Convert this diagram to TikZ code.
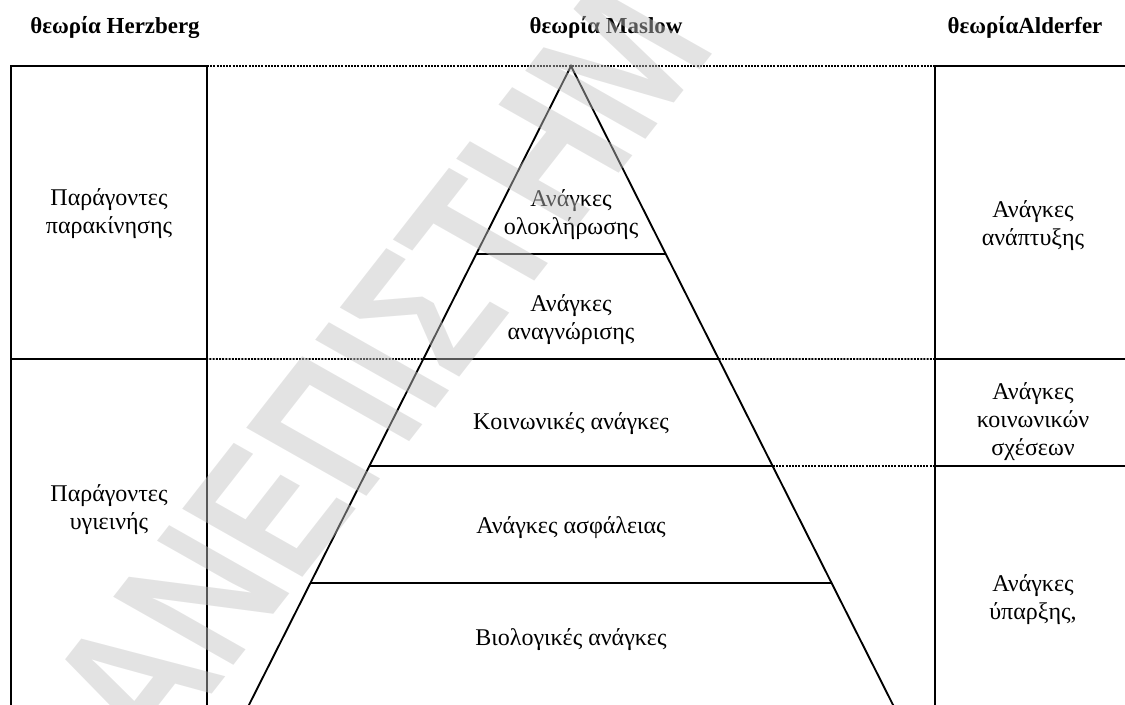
\documentclass[tikz,border=0pt]{standalone}
\usepackage{fontspec}
\setmainfont{Liberation Serif}
\newfontfamily\markfont{Liberation Sans}
\usetikzlibrary{calc}
\begin{document}
\begin{tikzpicture}[x=0.75pt,y=-0.75pt,
  rule/.style={line width=1.4pt},
  dots/.style={line width=1.4pt, dash pattern=on 1.5pt off 0.9pt},
  lbl/.style={font=\fontsize{18}{21}\selectfont, align=center, inner sep=0pt},
  head/.style={font=\fontsize{17.2}{19}\selectfont\bfseries, inner sep=0pt, anchor=base},
  stamp/.style={text=black!24, text opacity=0.45,
    font=\markfont\bfseries\fontsize{116}{116}\selectfont, inner sep=0pt}]
\useasboundingbox (0,0) rectangle (1125,704);
\clip (0,0) rectangle (1125,704);

% column headings
\node[head] (hH) at (115,33) {θεωρία Herzberg};
\node[head] (hM) at (606,33) {θεωρία Maslow};
\node[head] (hA) at (1025,33) {θεωρίαAlderfer};

% Herzberg column
\draw[rule] (11,710) |- (207,66) -- (207,710);
\draw[rule] (11,359) -- (207,359);

% Alderfer column
\draw[rule] (935,710) |- (1130,66);
\draw[rule] (935,359) -- (1130,359);
\draw[rule] (935,466) -- (1130,466);

% Maslow pyramid
\coordinate (top) at (571,66);
\coordinate (bl) at (246.4,710);
\coordinate (br) at (895.6,710);
\draw[rule] (bl) -- (top) -- (br);
\foreach \y/\n in {254/a,359/b,466/c,583/d} {
  \coordinate (l\n) at ($(top)!{(\y-66)/644}!(bl)$);
  \coordinate (r\n) at ($(top)!{(\y-66)/644}!(br)$);
  \draw[rule] (l\n) -- (r\n);
}

% dotted guide lines between the columns
\coordinate (d0) at (127,66);
\coordinate (d1) at (973,66);
\coordinate (d2) at (187,359);
\coordinate (d3) at (950,359);
\coordinate (d4) at (760,466);
\coordinate (d5) at (953,466);
\draw[dots] (d0) -- (d1);
\draw[dots] (d2) -- (lb);
\draw[dots] (rb) -- (d3);
\draw[dots] (d4) -- (d5);

% texts
\node[lbl] (hz1) at (109,214) {Παράγοντες\\παρακίνησης};
\node[lbl] (hz2) at (109,510) {Παράγοντες\\υγιεινής};
\node[lbl] (al1) at (1033,226) {Ανάγκες\\ανάπτυξης};
\node[lbl] (al2) at (1033,422) {Ανάγκες\\κοινωνικών\\σχέσεων};
\node[lbl] (al3) at (1033,600) {Ανάγκες\\ύπαρξης,};
\node[lbl] (m1) at (571,215) {Ανάγκες\\ολοκλήρωσης};
\node[lbl] (m2) at (571,320) {Ανάγκες\\αναγνώρισης};
\node[lbl] (m3) at (571,424) {Κοινωνικές ανάγκες};
\node[lbl] (m4) at (571,528) {Ανάγκες ασφάλειας};
\node[lbl] (m5) at (571,640) {Βιολογικές ανάγκες};

% slanted watermark laid over the page
\node[stamp, anchor=base west, cm={0.616,0.788,-1.13,0.64,(0,0)}] (mark) at (159,762) {ΑΝΕΠΙΣΤΗΜ};
\end{tikzpicture}
\end{document}
